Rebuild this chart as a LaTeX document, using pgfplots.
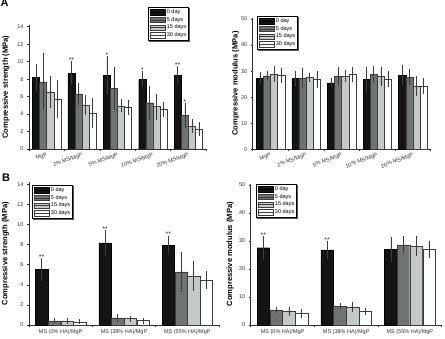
\documentclass[border=0pt]{standalone}
\usepackage{pgfplots}
\pgfplotsset{compat=1.18}
\usepackage{fontspec}
\setmainfont{Liberation Sans}
\pgfdeclarelayer{background}
\pgfsetlayers{background,main}

\definecolor{day0}{HTML}{141414}
\definecolor{day5}{HTML}{6F7472}
\definecolor{day15}{HTML}{C3C9C7}
\definecolor{day30}{HTML}{FFFFFF}
\definecolor{edge}{HTML}{3C3C3C}
\definecolor{txt}{HTML}{303030}

\pgfplotsset{
  panel/.style={
    scale only axis,
    anchor=south west,
    axis lines=left,
    axis line style={-, line width=0.5pt, color=txt},
    xmin=0, ymin=0,
    tick align=outside,
    tick style={color=txt, line width=0.5pt},
    major tick length=2pt,
    minor tick length=2pt,
    every major x tick/.style={draw=none},
    tick label style={font=\fontsize{5.5}{6}\selectfont, color=txt},
    /pgf/number format/assume math mode=true,
    ylabel style={font=\fontsize{7.6}{8}\selectfont\bfseries, color=black, anchor=center},
    legend cell align=left,
    legend style={font=\fontsize{5.5}{6}\selectfont, draw=black, fill=white, line width=0.5pt,
      anchor=north west, inner sep=1.5pt, row sep=0.8pt,
      nodes={inner sep=0.7pt}},
  },
  swatch/.style={legend image code/.code={%
    \draw[##1, line width=0.4pt] (0pt,-2.6pt) rectangle (15pt,2.6pt);
    \path (0pt,0pt) -- (16pt,0pt);}},
  bar/.style={ybar, bar width=#1, bar shift=0pt, line width=0.4pt, forget plot,
    error bars/y dir=both, error bars/y explicit,
    error bars/error bar style={color=edge, line width=0.5pt},
    error bars/error mark options={mark size=2pt, line width=0.5pt, color=edge}},
  s0/.style={bar=#1, fill=day0, draw=black},
  s5/.style={bar=#1, fill=day5, draw=edge},
  s15/.style={bar=#1, fill=day15, draw=edge},
  s30/.style={bar=#1, fill=day30, draw=edge},
  stars/.style={only marks, mark=none, forget plot,
    nodes near coords, point meta=explicit symbolic,
    nodes near coords style={anchor=south, font=\fontsize{7}{7}\selectfont, color=txt, inner sep=0.6pt}},
  agroups/.style={xmax=5, xtick={0.5,1.5,2.5,3.5,4.5},
    xticklabels={MgP, 2\% MS/MgP, 5\% MS/MgP, 10\% MS/MgP, 20\% MS/MgP},
    minor xtick={0,1,2,3,4,5},
    xticklabel style={rotate=20, anchor=north east, inner sep=1pt}},
  bgroups/.style={xmax=3, xtick={0.5,1.5,2.5},
    xticklabels={MS (0\% HA)/MgP, MS (38\% HA)/MgP, MS (55\% HA)/MgP},
    minor xtick={0,1,2,3},
    xticklabel style={anchor=north, inner sep=2pt}},
}
% legend of the four curing times
\newcommand{\daylegend}{%
  \addlegendimage{swatch, fill=day0, draw=black}
  \addlegendimage{swatch, fill=day5, draw=edge}
  \addlegendimage{swatch, fill=day15, draw=edge}
  \addlegendimage{swatch, fill=day30, draw=edge}
  \legend{0 day, 5 days, 15 days, 30 days}}
% dark offset shadow behind a named legend box
\newcommand{\legshadow}[1]{%
  \begin{pgfonlayer}{background}
    \fill[black!65] ([shift={(1.3pt,-1.3pt)}]#1.south west) rectangle ([shift={(1.3pt,-1.3pt)}]#1.north east);
  \end{pgfonlayer}}

\begin{document}
\begin{tikzpicture}

\node[anchor=base west, font=\fontsize{11}{11}\selectfont\bfseries, inner sep=0pt] at (0.5pt,331pt) {A};
\node[anchor=base west, font=\fontsize{11}{11}\selectfont\bfseries, inner sep=0pt] at (2pt,157pt) {B};

% A: compressive strength; each group spans one x unit, bars 0.2 wide
\begin{axis}[panel, agroups, at={(29pt,189pt)}, width=177pt, height=124pt,
  ymax=14.2, ytick={0,2,...,14},
  ylabel={Compressive strength (MPa)},
  ylabel style={at={(axis description cs:-0.13,0.5)}},
  legend style={name=legAS, at={(axis description cs:0.672,1.145)}}]
\daylegend
\addplot[s0=0.2] coordinates {(0.2,8.2) +- (0,1.3) (1.2,8.7) +- (0,1.1) (2.2,8.4) +- (0,2.0) (3.2,8.0) +- (0,0.7) (4.2,8.45) +- (0,0.8)};
\addplot[s5=0.2] coordinates {(0.4,7.7) +- (0,3.05) (1.4,6.3) +- (0,1.0) (2.4,6.95) +- (0,2.2) (3.4,5.3) +- (0,1.7) (4.4,3.85) +- (0,1.2)};
\addplot[s15=0.2] coordinates {(0.6,6.5) +- (0,1.6) (1.6,5.0) +- (0,0.9) (2.6,4.95) +- (0,0.5) (3.6,4.85) +- (0,1.25) (4.6,2.6) +- (0,0.55)};
\addplot[s30=0.2] coordinates {(0.8,5.7) +- (0,1.95) (1.8,4.1) +- (0,1.5) (2.8,4.75) +- (0,0.6) (3.8,4.55) +- (0,0.6) (4.8,2.3) +- (0,0.55)};
\addplot[stars] coordinates {(1.2,9.8) [**] (2.2,10.4) [*] (3.2,8.7) [*] (4.2,9.25) [**] (4.4,5.05) [*]};
\end{axis}

% A: compressive modulus
\begin{axis}[panel, agroups, at={(252.7pt,188.7pt)}, width=178pt, height=131.6pt,
  ymax=50.5, ytick={0,10,...,50},
  ylabel={Compressive modulus (MPa)},
  ylabel style={at={(axis description cs:-0.096,0.5)}},
  legend style={name=legAM, at={(axis description cs:0.024,1.013)}}]
\daylegend
\addplot[s0=0.2] coordinates {(0.2,27.3) +- (0,1.6) (1.2,27.1) +- (0,2.2) (2.2,25.5) +- (0,1.0) (3.2,26.8) +- (0,3.9) (4.2,28.5) +- (0,3.0)};
\addplot[s5=0.2] coordinates {(0.4,28.2) +- (0,1.2) (1.4,27.4) +- (0,2.9) (2.4,28.2) +- (0,2.7) (3.4,28.7) +- (0,2.5) (4.4,27.7) +- (0,2.2)};
\addplot[s15=0.2] coordinates {(0.6,28.8) +- (0,2.3) (1.6,27.6) +- (0,1.1) (2.6,28.1) +- (0,1.6) (3.6,28.1) +- (0,2.9) (4.6,24.2) +- (0,3.0)};
\addplot[s30=0.2] coordinates {(0.8,28.3) +- (0,2.0) (1.8,26.8) +- (0,2.6) (2.8,28.8) +- (0,2.1) (3.8,26.9) +- (0,2.4) (4.8,24.3) +- (0,2.2)};
\end{axis}

% B: compressive strength
\begin{axis}[panel, bgroups, at={(29pt,13pt)}, width=190pt, height=142.7pt,
  ymax=14.2, ytick={0,2,...,14},
  ylabel={Compressive strength (MPa)},
  ylabel style={at={(axis description cs:-0.124,0.5)}},
  legend style={name=legBS, at={(axis description cs:0.016,0.981)}}]
\daylegend
\addplot[s0=0.195] coordinates {(0.2,5.54) +- (0,0.93) (1.2,8.16) +- (0,1.1) (2.2,7.96) +- (0,0.72)};
\addplot[s5=0.195] coordinates {(0.4,0.4) +- (0,0.05) (1.4,0.7) +- (0,0.2) (2.4,5.28) +- (0,1.75)};
\addplot[s15=0.195] coordinates {(0.6,0.4) +- (0,0.08) (1.6,0.63) +- (0,0.1) (2.6,4.88) +- (0,1.25)};
\addplot[s30=0.195] coordinates {(0.8,0.3) +- (0,0.05) (1.8,0.43) +- (0,0.1) (2.8,4.48) +- (0,0.66)};
\addplot[stars] coordinates {(0.2,6.47) [**] (1.2,9.26) [**] (2.2,8.68) [**]};
\end{axis}

% B: compressive modulus
\begin{axis}[panel, bgroups, at={(250.7pt,13pt)}, width=191pt, height=141.4pt,
  ymax=50.5, ytick={0,10,...,50},
  ylabel={Compressive modulus (MPa)},
  ylabel style={at={(axis description cs:-0.107,0.5)}},
  legend style={name=legBM, at={(axis description cs:0.028,0.997)}}]
\daylegend
\addplot[s0=0.195] coordinates {(0.2,27.6) +- (0,3.3) (1.2,26.8) +- (0,2.4) (2.2,27.0) +- (0,3.7)};
\addplot[s5=0.195] coordinates {(0.4,5.36) +- (0,0.3) (1.4,6.67) +- (0,0.4) (2.4,28.6) +- (0,2.6)};
\addplot[s15=0.195] coordinates {(0.6,4.76) +- (0,0.9) (1.6,6.3) +- (0,1.1) (2.6,28.2) +- (0,2.8)};
\addplot[s30=0.195] coordinates {(0.8,4.17) +- (0,0.9) (1.8,4.76) +- (0,0.5) (2.8,27.0) +- (0,2.4)};
\addplot[stars] coordinates {(0.2,30.9) [**] (1.2,29.2) [**]};
\end{axis}

\legshadow{legAS}\legshadow{legAM}\legshadow{legBS}\legshadow{legBM}

% fixed page frame
\pgfresetboundingbox
\useasboundingbox (0pt,0pt) rectangle (445pt,338pt);
\end{tikzpicture}
\end{document}
